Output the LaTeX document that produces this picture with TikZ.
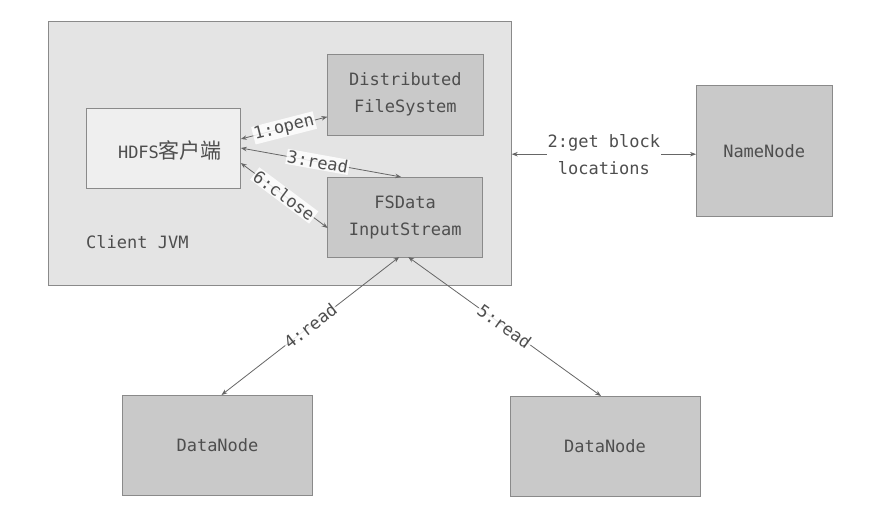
\documentclass[tikz,border=0pt]{standalone}
\usepackage{fontspec}
\setmonofont{DejaVu Sans Mono}
\newfontfamily\cjk{Noto Sans CJK SC}
\usetikzlibrary{arrows.meta}
\definecolor{bordc}{HTML}{8A8A8A}
\definecolor{outerc}{HTML}{E4E4E4}
\definecolor{lightc}{HTML}{EFEFEF}
\definecolor{darkc}{HTML}{C9C9C9}
\definecolor{txtc}{HTML}{4E4E4E}
\definecolor{linec}{HTML}{666666}
\newcommand\mfont{\ttfamily\fontsize{17}{27}\selectfont}
\begin{document}
\begin{tikzpicture}[x=1pt,y=-1pt,
  basebox/.style={draw=bordc, line width=0.9pt, inner sep=0pt, outer sep=0pt,
    text=txtc, align=center, font=\mfont},
  darkbox/.style={basebox, fill=darkc},
  arr/.style={draw=linec, line width=0.8pt,
    {Stealth[length=6pt,width=4.5pt]}-{Stealth[length=6pt,width=4.5pt]}},
  lab/.style={fill=white, fill opacity=0.85, text opacity=1, sloped,
    inner sep=1pt, text=txtc, font=\mfont}]
\useasboundingbox (0,0) rectangle (881,508);
\fill[white] (0,0) rectangle (881,508);
% boxes
\node[basebox, fill=outerc, minimum width=463.4pt, minimum height=263.3pt] (jvm) at (280,153.3) {};
\node[basebox, fill=lightc, minimum width=154pt, minimum height=80pt] (hdfs) at (163.8,148) {};
\node[text=txtc, font=\mfont, inner sep=0pt] (hdfst) at (170,150)
  {HDFS{\cjk\fontsize{21}{21}\selectfont 客户端}};
\node[darkbox, minimum width=156pt, minimum height=80.5pt] (dfs) at (405.4,94.8) {Distributed\\FileSystem};
\node[darkbox, minimum width=155pt, minimum height=80pt] (fsd) at (405.2,217) {FSData\\InputStream};
\node[darkbox, minimum width=136.3pt, minimum height=131pt] (nn) at (764.2,151.2) {NameNode};
\node[darkbox, minimum width=190.4pt, minimum height=100pt] (dn1) at (217.5,445) {DataNode};
\node[darkbox, minimum width=190pt, minimum height=100pt] (dn2) at (605,446) {DataNode};
\node[text=txtc, font=\mfont, anchor=west, inner sep=0pt] (cjvm) at (86,242) {Client JVM};
% connectors
\draw[arr] ([yshift=9pt]hdfs.east) -- node[lab] {1:open} ([yshift=-22pt]dfs.west);
\draw[arr] (hdfs.east) -- node[lab, pos=0.48] {3:read} ([xshift=-4pt]fsd.north);
\draw[arr] ([yshift=-15pt]hdfs.east) -- node[lab] {6:close} ([yshift=-11pt]fsd.west);
\draw[arr] ([yshift=-3pt]nn.west -| jvm.east) -- node[fill=white, inner sep=1pt, text=txtc, font=\mfont, align=center] {2:get block\\locations} ([yshift=-3pt]nn.west);
\draw[arr] ([xshift=-6pt]fsd.south) -- node[lab] {4:read} ([xshift=4pt]dn1.north);
\draw[arr] ([xshift=3pt]fsd.south) -- node[lab] {5:read} ([xshift=-4pt]dn2.north);
\end{tikzpicture}
\end{document}
